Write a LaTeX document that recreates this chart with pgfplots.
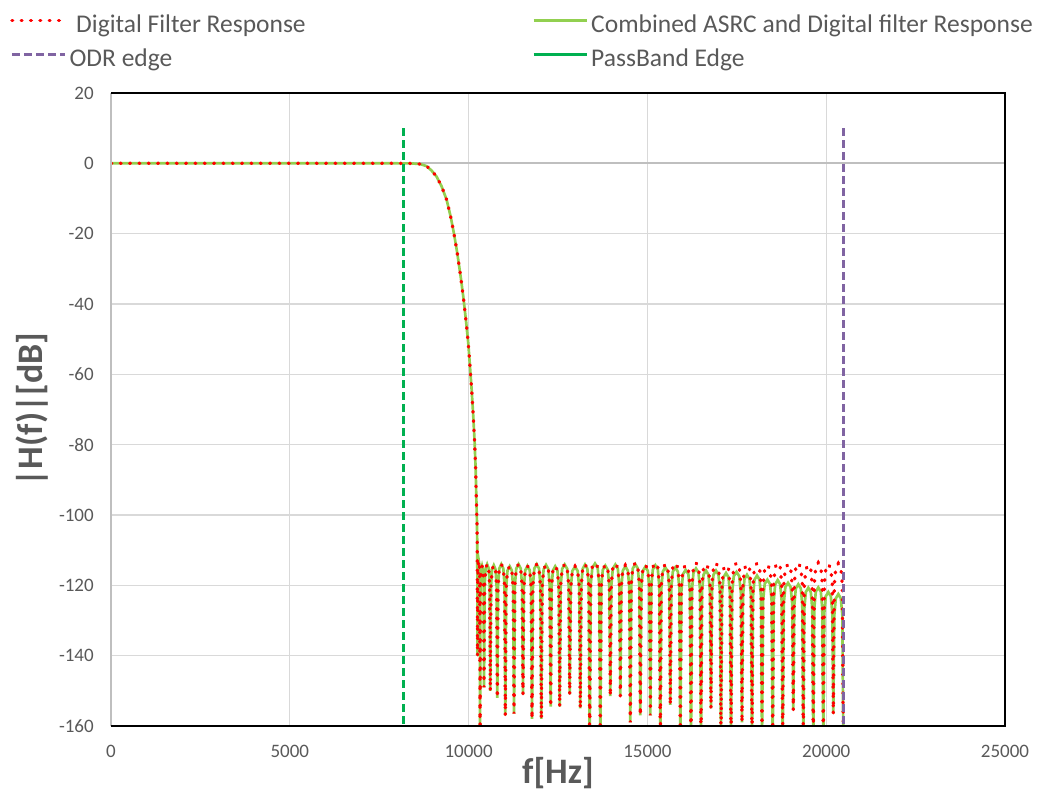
\documentclass[border=0pt]{standalone}
\usepackage{pgfplots}
\pgfplotsset{compat=1.18}
\usepackage{pgfplotstable}
\usepackage{fontspec}
\setmainfont{Carlito}
\definecolor{cred}{HTML}{FF0000}
\definecolor{cgreen}{HTML}{92D050}
\definecolor{cpurple}{HTML}{8064A2}
\definecolor{cdgreen}{HTML}{00B050}
\definecolor{ctext}{HTML}{595959}
\definecolor{cgrid}{HTML}{D9D9D9}
\definecolor{czero}{HTML}{BFBFBF}

\pgfplotstableread{
f r g
0 0 0
8000 0 0
8400 -0.02 -0.02
8641 -0.2 -0.2
8828 -0.8 -0.8
8968 -2.1 -2.1
9107 -3.8 -3.8
9247 -6.6 -6.6
9387 -10.4 -10.4
9499 -15.2 -15.2
9590 -19.9 -19.9
9684 -25.6 -25.6
9778 -32.2 -32.2
9851 -37.9 -37.9
9926 -44.6 -44.6
9991 -51.2 -51.2
10039 -57.8 -57.8
10086 -64.5 -64.5
10131 -72 -72
10170 -79.6 -79.6
10198 -87.2 -87.2
10215 -94.8 -94.8
10235 -102.4 -102.4
10243 -110 -110
10250 -140 -140
10257 -119 -119
10268 -114.2 -114.2
10285 -113 -113
10303 -114.2 -114.2
10313 -119 -119
10320 -165 -165
10331 -120.5 -120.5
10348 -115.7 -115.7
10376 -114.5 -114.5
10403 -115.7 -115.7
10420 -120.5 -120.5
10431 -149 -149
10449 -120 -120
10475 -115.2 -115.2
10519 -114 -114
10563 -115.2 -115.2
10589 -120 -120
10607 -150 -150
10627 -120.3 -120.3
10656 -115.5 -115.5
10705 -114.3 -114.3
10754 -115.5 -115.5
10783 -120.3 -120.3
10803 -152 -152
10825 -120 -120
10859 -115.2 -115.2
10915 -114 -114
10971 -115.2 -115.2
11005 -120 -120
11027 -157 -157
11051 -120.6 -120.6
11088 -115.8 -115.8
11149 -114.6 -114.6
11209 -115.8 -115.8
11246 -120.6 -120.6
11270 -156.5 -156.5
11295 -120 -120
11333 -115.2 -115.2
11396 -114 -114
11458 -115.2 -115.2
11496 -120 -120
11521 -151 -151
11546 -120.5 -120.5
11584 -115.7 -115.7
11647 -114.5 -114.5
11710 -115.7 -115.7
11748 -120.5 -120.5
11773 -158 -158
11799 -120 -120
11838 -115.2 -115.2
11904 -114 -114
11969 -115.2 -115.2
12008 -120 -120
12034 -158 -158
12060 -120.2 -120.2
12099 -115.4 -115.4
12165 -114.2 -114.2
12230 -115.4 -115.4
12269 -120.2 -120.2
12295 -154.5 -154.5
12320 -120.5 -120.6
12358 -115.7 -115.8
12421 -114.5 -114.6
12484 -115.7 -115.8
12522 -120.5 -120.6
12547 -154.5 -154.5
12575 -120 -120.1
12617 -115.2 -115.3
12687 -114 -114.1
12757 -115.2 -115.3
12799 -120 -120.1
12827 -151 -151
12857 -120.6 -120.7
12901 -115.8 -115.9
12976 -114.6 -114.7
13050 -115.8 -115.9
13094 -120.6 -120.7
13124 -155 -155
13150 -120 -120.1
13190 -115.2 -115.3
13255 -114 -114.1
13321 -115.2 -115.3
13360 -120 -120.1
13386 -165 -165
13416 -119.6 -119.8
13460 -114.8 -115
13535 -113.6 -113.8
13609 -114.8 -115
13653 -119.6 -119.8
13683 -165 -165
13711 -120.2 -120.4
13753 -115.4 -115.6
13823 -114.2 -114.4
13893 -115.4 -115.6
13935 -120.2 -120.4
13963 -151.5 -151.5
13991 -119.8 -120.1
14033 -115 -115.3
14103 -113.8 -114.1
14173 -115 -115.3
14215 -119.8 -120.1
14243 -151.5 -151.5
14271 -120.3 -120.6
14313 -115.5 -115.8
14383 -114.3 -114.6
14452 -115.5 -115.8
14494 -120.3 -120.6
14522 -159 -159
14550 -119.6 -120
14592 -114.8 -115.2
14662 -113.6 -114
14732 -114.8 -115.2
14774 -119.6 -120
14802 -157 -157
14830 -120.2 -120.7
14872 -115.4 -115.9
14942 -114.2 -114.7
15012 -115.4 -115.9
15054 -120.2 -120.7
15082 -157 -157
15110 -119.6 -120.3
15152 -114.8 -115.5
15222 -113.6 -114.3
15291 -114.8 -115.5
15333 -119.6 -120.3
15361 -165 -165
15389 -120 -120.9
15431 -115.2 -116.1
15501 -114 -114.9
15571 -115.2 -116.1
15613 -120 -120.9
15641 -154 -154
15669 -119.7 -120.9
15711 -114.9 -116.1
15781 -113.7 -114.9
15851 -114.9 -116.1
15893 -119.7 -120.9
15921 -165 -165
15951 -120.2 -121.6
15996 -115.4 -116.8
16070 -114.2 -115.6
16145 -115.4 -116.8
16189 -120.2 -121.6
16219 -165 -165
16247 -119.6 -121.2
16289 -114.8 -116.4
16359 -113.6 -115.2
16429 -114.8 -116.4
16471 -119.6 -121.2
16499 -165 -165
16527 -120 -121.8
16569 -115.2 -117
16639 -114 -115.8
16708 -115.2 -117
16750 -120 -121.8
16778 -155 -155
16806 -119.7 -121.8
16848 -114.9 -117
16918 -113.7 -115.8
16988 -114.9 -117
17030 -119.7 -121.8
17058 -165 -165
17086 -120.2 -122.5
17128 -115.4 -117.7
17198 -114.2 -116.5
17268 -115.4 -117.7
17310 -120.2 -122.5
17338 -165 -165
17369 -119.6 -122.2
17415 -114.8 -117.4
17492 -113.6 -116.2
17568 -114.8 -117.4
17614 -119.6 -122.2
17645 -159 -159
17673 -120 -123
17715 -115.2 -118.2
17785 -114 -117
17855 -115.2 -118.2
17897 -120 -123
17925 -165 -165
17953 -119.7 -123.2
17995 -114.9 -118.4
18065 -113.7 -117.2
18135 -114.9 -118.4
18177 -119.7 -123.2
18205 -165 -165
18235 -120.2 -124.4
18280 -115.4 -119.6
18355 -114.2 -118.4
18429 -115.4 -119.6
18474 -120.2 -124.4
18504 -165 -165
18532 -119.6 -124.5
18574 -114.8 -119.7
18644 -113.6 -118.5
18713 -114.8 -119.7
18755 -119.6 -124.5
18783 -165 -165
18813 -120 -125.3
18857 -115.2 -120.5
18932 -114 -119.3
19006 -115.2 -120.5
19050 -120 -125.3
19080 -155.5 -155.5
19108 -119.7 -125.7
19150 -114.9 -120.9
19220 -113.7 -119.7
19290 -114.9 -120.9
19332 -119.7 -125.7
19360 -165 -165
19388 -120.2 -126.7
19430 -115.4 -121.9
19500 -114.2 -120.7
19569 -115.4 -121.9
19611 -120.2 -126.7
19639 -165 -165
19667 -119.6 -126.6
19709 -114.8 -121.8
19779 -113.6 -120.6
19849 -114.8 -121.8
19891 -119.6 -126.6
19919 -165 -165
19947 -120 -127.9
19989 -115.2 -123.1
20059 -114 -121.9
20129 -115.2 -123.1
20171 -120 -127.9
20199 -156.5 -156.5
20227 -119.8 -128.5
20269 -115 -123.7
20339 -113.8 -122.5
20409 -115 -123.7
20451 -119.8 -128.5
20479 -165 -165
}\resp

\tikzset{
  redstyle/.style={cred, line width=2.5bp, line cap=round, dash pattern=on 0.6bp off 6.4bp},
  greenstyle/.style={cgreen, line width=2bp},
  odrstyle/.style={cpurple, line width=2.25bp, dash pattern=on 6bp off 3bp},
  pbstyle/.style={cdgreen, line width=2.25bp, dash pattern=on 6bp off 3bp},
}

\begin{document}
\begin{tikzpicture}
\useasboundingbox (-83.25bp,-50.25bp) rectangle (696.75bp,544.5bp);
\begin{axis}[
  name=ax,
  scale only axis, width=670.5bp, height=474.75bp,
  xmin=0, xmax=25000, ymin=-160, ymax=20,
  xtick={0,5000,...,25000}, ytick={-160,-140,...,20},
  grid=major, grid style={cgrid, line width=1bp},
  major tick length=0pt,
  axis line style={draw=none},
  extra y ticks={0}, extra y tick labels={},
  extra y tick style={grid style={czero, line width=1.3bp}},
  tick label style={font=\fontsize{14.3}{17}\selectfont, text=ctext},
  /pgf/number format/assume math mode=true,
  /pgf/number format/1000 sep={},
  scaled ticks=false,
  xticklabel style={anchor=north, inner sep=0pt, yshift=-14bp},
  yticklabel style={anchor=east, inner sep=0pt, xshift=-12.75bp},
  xlabel={f[Hz]}, ylabel={|H(f)|[dB]},
  every axis x label/.style={at={(axis description cs:0.5,-0.0916)}, anchor=base,
    font=\fontsize{27}{32}\selectfont\bfseries, text=ctext},
  every axis y label/.style={at={(axis description cs:-0.0768,0.5)}, rotate=90, anchor=base,
    font=\fontsize{27}{32}\selectfont\bfseries, text=ctext},
  legend columns=2,
  legend style={draw=none, fill=none, at={(axis description cs:-0.1130,1.1234)}, anchor=north west,
    inner sep=0pt, font=\fontsize{19.2}{23}\selectfont, text=ctext,
    nodes={inner sep=0pt, text height=13bp, text depth=4bp},
    row sep=8.5bp, cells={anchor=west},
    /tikz/every odd column/.append style={column sep=2bp}},
  legend image code/.code={\draw[#1] (0bp,4.5bp) -- (40bp,4.5bp);},
]
\addlegendimage{redstyle}
\addlegendentry{\makebox[347bp][l]{\hspace{5bp}Digital Filter Response}}
\addlegendimage{greenstyle}
\addlegendentry{Combined ASRC and Digital filter Response}
\addlegendimage{odrstyle}
\addlegendentry{\makebox[347bp][l]{ODR edge}}
\addlegendimage{cdgreen, line width=2.25bp}
\addlegendentry{PassBand Edge}

\addplot[greenstyle, forget plot] table[x=f, y=g] {\resp};
\addplot[redstyle, forget plot] table[x=f, y=r] {\resp};
\addplot[odrstyle, forget plot] coordinates {(20480,10) (20480,-160)};
\addplot[pbstyle, forget plot] coordinates {(8192,10) (8192,-160)};
\end{axis}
\draw[czero, line width=1.3bp] (ax.south west) -- (ax.north west);
\draw[black, line width=1.5bp] (ax.south west) -- (ax.south east) -- (ax.north east) -- (ax.north west);
\end{tikzpicture}
\end{document}
